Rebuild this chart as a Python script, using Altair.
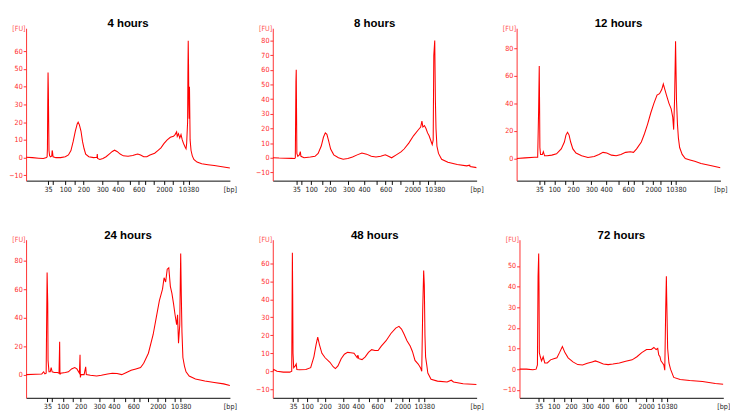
import altair as alt
import pandas as pd

TITLES = ["4 hours", "8 hours", "12 hours", "24 hours", "48 hours", "72 hours"]

# Ladder tick labels (bp) shown under each electropherogram
TICK_LABELS = ["35", "", "100", "", "200", "300", "400", "", "600", "", "", "2000", "", "", "10380"]

# Migration positions (arbitrary time units) of the ladder ticks per panel
T_4H = [70, 86, 125, 155, 183, 243, 293, 330, 359, 380, 407, 440, 468, 500, 518]
T_8H = [75, 90, 123, 157, 183, 242, 292, 333, 361, 382, 407, 447, 468, 497, 518]
T_12H = [72, 87, 120, 156, 180, 238, 285, 326, 355, 373, 399, 435, 459, 492, 507]
T_24H = [68, 83, 117, 150, 174, 233, 280, 315, 342, 362, 390, 420, 443, 475, 493]
T_48H = [63, 78, 107, 139, 163, 219, 266, 299, 325, 347, 369, 404, 425, 453, 472]
T_72H = [60, 74, 107, 139, 161, 212, 261, 293, 317, 340, 362, 396, 417, 444, 461]

# Run length (time units) per panel
XMAX = [650, 652, 649, 650, 635, 637]

# Fluorescence axis ranges and ticks per panel
YDOM = [[-13, 73], [-15.6, 88.4], [-16, 94.4], [-16.3, 94.7], [-14.8, 73.2], [-13.9, 62.7]]
YT_4H = [-10, 0, 10, 20, 30, 40, 50, 60]
YT_8H = [-10, 0, 10, 20, 30, 40, 50, 60, 70, 80]
YT_12H = [0, 20, 40, 60, 80]
YT_24H = [0, 20, 40, 60, 80]
YT_48H = [-10, 0, 10, 20, 30, 40, 50, 60]
YT_72H = [-10, 0, 10, 20, 30, 40, 50]

# ---- traces: time and fluorescence ----
X_4H = [0, 20, 40, 55, 65, 67, 68, 69, 70, 71, 72, 73, 75, 78, 82, 83, 84, 86, 95, 110, 125, 135, 143, 150,
        157, 163, 166, 170, 175, 180, 185, 190, 200, 215, 226, 227, 228, 235, 245, 255, 265, 275, 282, 290,
        300, 310, 325, 340, 350, 356, 365, 375, 385, 395, 410, 420, 430, 440, 450, 460, 470, 475, 480, 482,
        486, 490, 494, 498, 502, 507, 510, 512, 515, 516, 517, 518, 519, 520, 521, 522, 523, 526, 530, 535,
        545, 560, 580, 600, 620, 650]
Y_4H = [0.2, 0, -0.3, -0.5, 0, 0.5, 5, 30, 48, 38, 20, 4, 1, 0.5, 1, 4, 3.5, 0.5, 0, 0, 0.5, 1.5, 4, 9,
        15, 19, 20, 18.5, 15, 9, 5, 2, 0.5, 0, 0.2, 2, -0.5, -1, -0.5, 0.5, 2, 3.5, 4.2, 3.5,
        2, 1, 0.8, 1.2, 1.8, 2, 1.5, 0.5, 0.5, 1.5, 2.5, 4, 5.5, 8, 10, 11.5, 12, 13, 14.5, 12,
        13.5, 11, 13, 10, 8, 6, 5, 8, 20, 48, 66, 52, 30, 22, 40, 25, 10, 4, 1, -1,
        -2.5, -3.5, -4, -4.5, -5, -5.8]

X_8H = [0, 20, 40, 60, 70, 72, 74, 75, 76, 77, 80, 85, 88, 90, 100, 120, 135, 145, 155, 162, 168, 173,
        178, 185, 195, 210, 225, 240, 255, 270, 285, 300, 315, 330, 345, 360, 370, 380, 395, 410, 420,
        435, 450, 465, 473, 477, 480, 485, 490, 495, 500, 505, 510, 513, 515, 518, 520, 522, 525, 530,
        540, 560, 590, 620, 630, 631, 652]
Y_8H = [0, -0.2, -0.3, -0.4, -0.5, 0, 52, 60, 30, 3, 1, 2, 4.2, 1, 0, 0.5, 1, 3, 8, 14, 17, 16,
        12, 6, 2, 0, -1, -0.5, 0.5, 2, 3.3, 2.5, 1, 0.5, 1, 2, 1, 0, 2, 4, 6,
        10, 15, 19, 21, 25, 21, 22, 20, 17, 15, 12, 9, 12, 70, 80, 40, 20, 8, 3,
        -1, -3, -4.5, -5.5, -5, -6, -6.7]

X_12H = [0, 27, 57, 67, 70, 72, 73, 74, 76, 82, 85, 89, 97, 112, 127, 142, 152, 157, 162, 167, 172, 179,
         189, 207, 227, 247, 262, 275, 287, 302, 317, 332, 347, 362, 372, 382, 397, 407, 417, 427, 437,
         447, 455, 462, 467, 472, 477, 485, 492, 497, 500, 503, 506, 509, 512, 515, 519, 527, 537, 552,
         567, 587, 617, 649]
Y_12H = [0, 0.5, 1, 1, 35, 67, 40, 8, 3, 3, 5, 2, 2, 2.5, 3.5, 7, 12, 17, 19, 17, 12, 7,
         4, 2, 0.8, 1.5, 3, 4.5, 4, 2.5, 2, 3, 4.5, 5, 4.5, 7, 12, 18, 25, 33, 40,
         46, 47, 50, 54, 50, 46, 40, 36, 30, 21, 44, 85, 42, 25, 15, 8, 3, 0, -1,
         -2, -3.5, -5, -6.6]

X_24H = [0, 30, 50, 56, 60, 64, 67, 69, 70, 73, 77, 80, 83, 90, 100, 105, 107, 108, 110, 125, 135, 145,
         155, 162, 170, 172, 173, 175, 185, 190, 192, 205, 225, 240, 260, 275, 290, 305, 320, 335, 350,
         365, 375, 390, 405, 415, 425, 435, 440, 445, 450, 455, 460, 465, 470, 475, 480, 483, 486, 490,
         492, 493, 495, 497, 500, 505, 510, 520, 540, 570, 600, 630, 650]
Y_24H = [0, 0.3, 0.5, 2, 0.5, 1, 71.7, 50, 10, 2, 2, 5, 2, 1.5, 1.5, 1, 23, 0, 1, 1.5, 2, 4,
         5, 4, 1, 14, -2, 0, 0, 5.5, 0, -0.5, -1, -0.5, 0.5, 1, 0.8, 0, 1.5, 3, 4,
         5, 8, 15, 28, 40, 52, 60, 68, 65, 74, 75, 62, 57, 50, 42, 35, 42, 22, 35,
         70, 85, 55, 30, 12, 6, 2, -1, -3, -4.5, -5.5, -6.5, -7.6]

X_48H = [0, 3, 13, 33, 53, 59, 61, 62, 63, 65, 70, 73, 75, 83, 103, 118, 128, 135, 140, 145, 153, 163,
         178, 188, 195, 203, 213, 223, 233, 243, 253, 263, 265, 268, 278, 288, 298, 308, 318, 328, 338,
         353, 368, 383, 393, 401, 408, 418, 428, 435, 443, 453, 460, 464, 467, 470, 472, 474, 476, 480,
         483, 493, 513, 543, 556, 563, 593, 635]
Y_48H = [0, 1, 0, -0.5, -0.5, 0, 66, 43, 10, 2, 3, 4, 1, 0.8, 1, 2, 8, 15, 19, 15, 10, 7.5,
         5, 2.5, 1.5, 3, 7, 9.5, 10.5, 10.3, 10, 7.5, 9, 7, 6.5, 8, 10.5, 12, 11.5, 11.5, 14,
         17, 21, 24, 25, 23.5, 21, 17, 14, 11, 6, 4, 2, 0, 34, 56, 48, 20, 8, 3,
         -1, -4.5, -5.5, -6, -5, -6, -7, -7.4]

X_72H = [0, 22, 42, 52, 56, 58, 60, 61, 62, 65, 69, 74, 79, 87, 97, 107, 117, 125, 134, 142, 152, 167,
         182, 197, 212, 227, 237, 247, 262, 277, 292, 312, 332, 352, 367, 382, 397, 412, 420, 427, 432,
         435, 439, 442, 447, 451, 454, 457, 459, 460, 463, 467, 472, 482, 502, 532, 572, 612, 637]
Y_72H = [0, 0, -0.3, 0, 2, 45, 56, 40, 8, 6, 4, 6, 3, 3, 4.5, 5, 5.5, 8, 11, 8, 5.5, 3.5,
         2.2, 2, 2.8, 3.5, 4, 3.5, 2.5, 2.2, 2.5, 3, 3.8, 4.5, 6, 8, 9.5, 9.5, 10.5, 9.5, 10,
         7, 6, 4, 3, 2, -0.5, 30, 45, 35, 10, 3, 0, -4, -5, -5.5, -6, -7, -7.3]

XS = [X_4H, X_8H, X_12H, X_24H, X_48H, X_72H]
YS = [Y_4H, Y_8H, Y_12H, Y_24H, Y_48H, Y_72H]
TS = [T_4H, T_8H, T_12H, T_24H, T_48H, T_72H]
YTS = [YT_4H, YT_8H, YT_12H, YT_24H, YT_48H, YT_72H]

W = 214
HEIGHTS = [160, 160, 160, 166, 166, 166]
RED = "#ff2a2a"
NARROW = "Liberation Sans Narrow, DejaVu Sans Condensed, sans-serif"


def label_expr(ticks, labels):
    expr = "''"
    for t, lab in reversed(list(zip(ticks, labels))):
        expr = f"datum.value == {t} ? '{lab}' : ({expr})"
    return expr


def panel(i):
    df = pd.DataFrame({"t": XS[i], "fu": YS[i]})
    return (
        alt.Chart(
            df,
            title=alt.TitleParams(
                TITLES[i], fontSize=12, fontWeight="bold", font="Liberation Sans",
                color="#000000", anchor="middle", offset=-6,
            ),
        )
        .mark_line(color="#ff0000", strokeWidth=1.1, clip=True)
        .encode(
            x=alt.X(
                "t:Q",
                scale=alt.Scale(domain=[0, XMAX[i]], nice=False, zero=False),
                axis=alt.Axis(
                    values=TS[i], labelExpr=label_expr(TS[i], TICK_LABELS), grid=False,
                    domainColor="#000000", tickColor="#000000", tickSize=4, labelPadding=1,
                    labelColor="#222222", labelFont=NARROW, labelFontSize=7.5,
                    labelFlush=False, labelOverlap=False,
                    title="[bp]", titleFont=NARROW, titleFontSize=7.5, titleFontWeight="normal",
                    titleColor="#222222", titleX=W, titleY=5, titleAlign="center", titleBaseline="top",
                ),
            ),
            y=alt.Y(
                "fu:Q",
                scale=alt.Scale(domain=YDOM[i], nice=False, zero=False),
                axis=alt.Axis(
                    values=YTS[i], format="d", grid=False,
                    domainColor=RED, tickColor=RED, tickSize=3, labelPadding=1,
                    labelColor=RED, labelFont=NARROW, labelFontSize=7.5,
                    labelFlush=False, labelOverlap=False,
                    title="[FU]", titleFont=NARROW, titleFontSize=7.5, titleFontWeight="normal",
                    titleColor="#ff5555", titleAngle=0, titleX=-1, titleY=0, titleAlign="right",
                    titleBaseline="middle",
                ),
            ),
        )
        .properties(width=W, height=HEIGHTS[i])
    )


row1 = alt.hconcat(panel(0), panel(1), panel(2), spacing=19)
row2 = alt.hconcat(panel(3), panel(4), panel(5), spacing=19)
chart = (
    alt.vconcat(row1, row2, spacing=38)
    .properties(padding={"left": 0, "top": 0, "right": 0, "bottom": 0}, background="#ffffff")
    .configure_view(stroke=None)
)

chart.save("out.html", embed_options={"renderer": "svg", "actions": False})
